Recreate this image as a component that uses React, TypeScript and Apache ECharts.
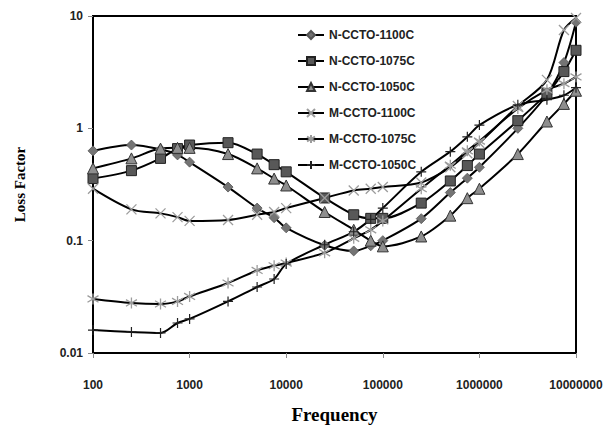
import React, { useEffect, useRef } from "react";
import * as echarts from "echarts";

const frequencies = [100, 250, 500, 750, 1000, 2500, 5000, 7500, 10000, 25000, 50000, 75000, 100000, 250000, 500000, 750000, 1000000, 2500000, 5000000, 7500000, 10000000];

const nCcto1100 = [0.63, 0.71, 0.65, 0.58, 0.5, 0.3, 0.195, 0.16, 0.13, 0.091, 0.081, 0.09, 0.1, 0.157, 0.268, 0.36, 0.45, 1.0, 2.0, 3.85, 8.8];
const nCcto1075 = [0.357, 0.42, 0.54, 0.66, 0.71, 0.745, 0.59, 0.475, 0.41, 0.24, 0.17, 0.158, 0.158, 0.216, 0.34, 0.466, 0.59, 1.17, 2.05, 3.2, 4.95];
const nCcto1050 = [0.44, 0.54, 0.66, 0.67, 0.67, 0.59, 0.44, 0.357, 0.31, 0.18, 0.125, 0.1, 0.089, 0.109, 0.167, 0.239, 0.29, 0.59, 1.15, 1.65, 2.16];
const mCcto1100 = [0.29, 0.19, 0.175, 0.162, 0.15, 0.153, 0.17, 0.18, 0.195, 0.24, 0.28, 0.29, 0.3, 0.33, 0.45, 0.6, 0.74, 1.58, 2.7, 7.5, 9.6];
const mCcto1075 = [0.0303, 0.0279, 0.0273, 0.0288, 0.0319, 0.042, 0.0543, 0.0598, 0.0632, 0.078, 0.105, 0.125, 0.15, 0.29, 0.47, 0.63, 0.77, 1.5, 2.2, 2.5, 2.87];
const mCcto1050 = [0.016, 0.0154, 0.0151, 0.0185, 0.0201, 0.0288, 0.0387, 0.0456, 0.062, 0.092, 0.12, 0.155, 0.195, 0.41, 0.62, 0.84, 1.07, 1.62, 1.8, 1.97, 2.3];

const seriesNames = ["N-CCTO-1100C", "N-CCTO-1075C", "N-CCTO-1050C", "M-CCTO-1100C", "M-CCTO-1075C", "M-CCTO-1050C"];
const xTickLabels = ["100", "1000", "10000", "100000", "1000000", "10000000"];
const yTickLabels = ["0.01", "0.1", "1", "10"];

const X_PATH = "path://M0,0 L10,10 M10,0 L0,10";
const STAR_PATH = "path://M0,2 L10,8 M0,8 L10,2 M5,0 L5,10";
const PLUS_PATH = "path://M5,0 L5,10 M0,5 L10,5";

export default function App() {
  const ref = useRef<HTMLDivElement>(null);
  useEffect(() => {
    if (!ref.current) return;
    const chart = echarts.init(ref.current, null, { renderer: "svg" });
    const values = [nCcto1100, nCcto1075, nCcto1050, mCcto1100, mCcto1075, mCcto1050];
    const markers = [
      { symbol: "diamond", size: 10, itemStyle: { color: "#747474", borderColor: "#555", borderWidth: 0.8 } },
      { symbol: "rect", size: 10, itemStyle: { color: "#585858", borderColor: "#222", borderWidth: 1 } },
      { symbol: "triangle", size: 11, itemStyle: { color: "#8e8e8e", borderColor: "#333", borderWidth: 1 } },
      { symbol: X_PATH, size: 10, itemStyle: { color: "transparent", borderColor: "#9c9c9c", borderWidth: 1.3 } },
      { symbol: STAR_PATH, size: 11, itemStyle: { color: "transparent", borderColor: "#9c9c9c", borderWidth: 1.3 } },
      { symbol: PLUS_PATH, size: 10, itemStyle: { color: "transparent", borderColor: "#222", borderWidth: 1.2 } },
    ];
    const series = seriesNames.map((name, i) => ({
      name,
      type: "line",
      data: frequencies.map((f, j) => [f, values[i][j]]),
      smooth: 0.3,
      symbol: markers[i].symbol,
      symbolSize: markers[i].size,
      showAllSymbol: true,
      lineStyle: { color: "#000", width: 2 },
      itemStyle: markers[i].itemStyle,
      z: 2,
    }));
    const labelStyle = { fontFamily: "Liberation Sans", fontWeight: "bold", fontSize: 12, color: "#222" };
    chart.setOption({
      animation: false,
      backgroundColor: "#fff",
      grid: { left: 93, right: 30, top: 16, bottom: 77, show: true, borderColor: "#000", borderWidth: 2 },
      legend: {
        orient: "vertical",
        left: 292,
        top: 24,
        itemWidth: 26,
        itemHeight: 10,
        itemGap: 14,
        textStyle: { fontFamily: "Liberation Sans", fontWeight: "bold", fontSize: 12, color: "#222" },
        data: seriesNames,
      },
      xAxis: {
        type: "log",
        logBase: 10,
        min: 100,
        max: 10000000,
        name: "Frequency",
        nameLocation: "middle",
        nameGap: 52,
        nameTextStyle: { fontFamily: "Liberation Serif", fontWeight: "bold", fontSize: 19, color: "#000" },
        axisLine: { lineStyle: { color: "#000", width: 2 } },
        axisTick: { show: true, length: 5, lineStyle: { color: "#888" } },
        minorTick: { show: false },
        splitLine: { show: false },
        axisLabel: {
          ...labelStyle,
          margin: 26,
          formatter: (v: number) => xTickLabels[Math.round(Math.log10(v)) - 2] ?? "",
        },
      },
      yAxis: {
        type: "log",
        logBase: 10,
        min: 0.01,
        max: 10,
        name: "Loss Factor",
        nameLocation: "middle",
        nameGap: 66,
        nameRotate: 90,
        nameTextStyle: { fontFamily: "Liberation Serif", fontWeight: "bold", fontSize: 15, color: "#000" },
        axisLine: { lineStyle: { color: "#000", width: 2 } },
        axisTick: { show: true, length: 5, lineStyle: { color: "#888" } },
        splitLine: { show: false },
        axisLabel: {
          ...labelStyle,
          margin: 10,
          formatter: (v: number) => yTickLabels[Math.round(Math.log10(v)) + 2] ?? "",
        },
      },
      series,
    });
    return () => chart.dispose();
  }, []);
  return <div ref={ref} style={{ width: 606, height: 430, position: "absolute", left: 0, top: 0 }} />;
}
